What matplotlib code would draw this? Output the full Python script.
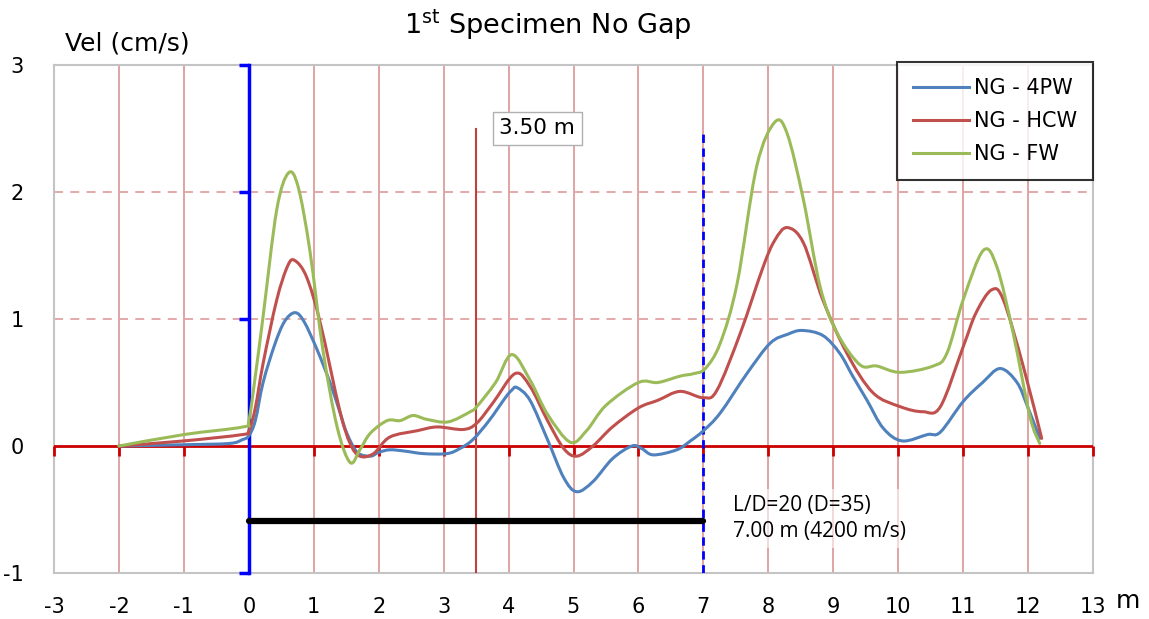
import matplotlib
matplotlib.use("Agg")
import matplotlib.pyplot as plt
from matplotlib.lines import Line2D
from matplotlib.path import Path
from matplotlib.patches import PathPatch

# ---------------- data ----------------
x_4pw = [-2, -1, -0.3, -0.1, 0, 0.1, 0.22, 0.4, 0.55, 0.71, 0.85, 1.05, 1.25, 1.4, 1.51, 1.67, 1.87,
         2.0, 2.17, 2.4, 2.69, 3.05, 3.25, 3.45, 3.7, 3.95, 4.05, 4.13, 4.33, 4.6, 4.85, 5.05, 5.3,
         5.6, 5.9, 6.05, 6.23, 6.59, 6.8, 7.0, 7.26, 7.67, 8.03, 8.3, 8.52, 8.84, 9.1, 9.3, 9.52,
         9.77, 10.06, 10.45, 10.65, 11.0, 11.3, 11.57, 11.83, 12.0, 12.18]
y_4pw = [0, 0.01, 0.02, 0.05, 0.08, 0.2, 0.5, 0.8, 0.98, 1.05, 0.98, 0.76, 0.5, 0.27, 0.10, -0.05, -0.08,
         -0.05, -0.03, -0.04, -0.06, -0.06, -0.02, 0.05, 0.2, 0.38, 0.44, 0.46, 0.36, 0.05, -0.25, -0.36, -0.28,
         -0.1, 0.0, -0.02, -0.07, -0.03, 0.04, 0.12, 0.26, 0.57, 0.81, 0.88, 0.91, 0.87, 0.73, 0.55, 0.36,
         0.14, 0.04, 0.09, 0.11, 0.35, 0.5, 0.61, 0.5, 0.3, 0.06]

x_hcw = [-2, -1, -0.1, 0, 0.1, 0.22, 0.43, 0.6, 0.71, 0.89, 1.1, 1.4, 1.56, 1.71, 1.92, 2.17, 2.59,
         2.9, 3.3, 3.51, 3.76, 4.1, 4.33, 4.6, 4.85, 5.05, 5.3, 5.6, 6.0, 6.3, 6.64, 7.0, 7.21, 7.57,
         7.92, 8.1, 8.29, 8.54, 8.84, 9.21, 9.61, 10.03, 10.38, 10.65, 11.0, 11.2, 11.44, 11.62, 11.93, 12.21]
y_hcw = [0, 0.04, 0.09, 0.12, 0.3, 0.65, 1.15, 1.42, 1.46, 1.33, 0.97, 0.28, 0.02, -0.08, -0.06, 0.07, 0.12,
         0.15, 0.13, 0.18, 0.34, 0.57, 0.47, 0.2, -0.02, -0.08, 0.0, 0.15, 0.3, 0.36, 0.43, 0.38, 0.44, 0.89,
         1.41, 1.62, 1.72, 1.6, 1.15, 0.73, 0.42, 0.31, 0.27, 0.31, 0.78, 1.05, 1.23, 1.15, 0.62, 0.06]

x_fw = [-2, -1, -0.09, 0, 0.1, 0.22, 0.43, 0.61, 0.76, 0.94, 1.14, 1.36, 1.56, 1.71, 1.87, 2.13, 2.33,
        2.53, 2.74, 3.07, 3.41, 3.51, 3.8, 4.05, 4.33, 4.6, 4.95, 5.2, 5.5, 6.0, 6.3, 6.64, 6.85, 7.03,
        7.26, 7.52, 7.82, 8.1, 8.29, 8.54, 8.8, 9.06, 9.41, 9.67, 10.03, 10.54, 10.75, 11.0, 11.31, 11.52,
        11.77, 12.03, 12.18]
y_fw = [0, 0.09, 0.15, 0.2, 0.55, 1.02, 1.86, 2.15, 2.04, 1.54, 0.76, 0.15, -0.13, -0.03, 0.10, 0.2, 0.2,
        0.24, 0.21, 0.19, 0.27, 0.31, 0.5, 0.72, 0.52, 0.25, 0.03, 0.12, 0.32, 0.5, 0.5, 0.55, 0.57, 0.61,
        0.81, 1.28, 2.2, 2.55, 2.46, 1.94, 1.25, 0.89, 0.64, 0.63, 0.58, 0.63, 0.73, 1.15, 1.54, 1.41,
        0.89, 0.23, 0.02]

series_labels = ["NG - 4PW", "NG - HCW", "NG - FW"]
x_ticks = list(range(-3, 14))
y_ticks = [-1, 0, 1, 2, 3]
marker_35 = 3.5
marker_7 = 7.0
black_bar_y = -0.59


def smooth_path(xs, ys):
    """Excel-like smoothed line: Bezier path through the data points."""
    n = len(xs)
    verts = [(xs[0], ys[0])]
    codes = [Path.MOVETO]
    for i in range(n - 1):
        x0, y0 = (xs[i - 1], ys[i - 1]) if i > 0 else (xs[i], ys[i])
        x1, y1 = xs[i], ys[i]
        x2, y2 = xs[i + 1], ys[i + 1]
        x3, y3 = (xs[i + 2], ys[i + 2]) if i + 2 < n else (x2, y2)
        c1 = (x1 + (x2 - x0) / 6.0, y1 + (y2 - y0) / 6.0)
        c2 = (x2 - (x3 - x1) / 6.0, y2 - (y3 - y1) / 6.0)
        verts += [c1, c2, (x2, y2)]
        codes += [Path.CURVE4] * 3
    return Path(verts, codes)


# ---------------- figure ----------------
W, H = 1149, 619
fig = plt.figure(figsize=(W / 100, H / 100), dpi=100)
ax = fig.add_axes([54 / W, 1 - 573 / H, (1093 - 54) / W, (573 - 65) / H])
ax.set_xlim(-3, 13)
ax.set_ylim(-1, 3)

grid_c = "#e2a3a3"
for xt in x_ticks[1:-1]:
    ax.axvline(xt, color=grid_c, lw=1.4, zorder=1)
for yt in [1, 2]:
    ax.axhline(yt, color=grid_c, lw=1.3, ls=(0, (5, 4)), zorder=1)

for s in ax.spines.values():
    s.set_color("#c4c4c4")
    s.set_linewidth(1.5)

ax.set_xticks(x_ticks)
ax.set_yticks(y_ticks)
ax.tick_params(axis="both", length=0, labelsize=15, pad=0)
ax.set_xticklabels([str(v) for v in x_ticks])
ax.set_yticklabels([str(v) for v in y_ticks])
ax.tick_params(axis="x", pad=17)
ax.tick_params(axis="y", pad=22)

# red zero axis with ticks
ax.axhline(0, color="#cc0000", lw=2, zorder=3)
ax.plot(x_ticks, [0] * len(x_ticks), ls="none", marker=3, markersize=7,
        markeredgewidth=2, color="#cc0000", zorder=3, clip_on=False)

# blue solid line at x=0 with left ticks
ax.plot([0, 0], [-1, 3], color="#0000ff", lw=2.5, zorder=4, clip_on=False)
ax.plot([0, 0, 0, 0], [-1, 1, 2, 3], ls="none", marker=0, markersize=7,
        markeredgewidth=2.5, color="#0000ff", zorder=4, clip_on=False)

# blue dashed at 7
ax.plot([marker_7, marker_7], [-1, 2.47], color="#0000ff", lw=2, ls=(0, (3, 2)), zorder=4)

# red vertical at 3.5
ax.plot([marker_35, marker_35], [-1, 2.5], color="#c0403f", lw=1.5, zorder=4)
ax.text(4.44, 2.5, "3.50 m", fontsize=15.5, ha="center", va="center", zorder=6,
        bbox=dict(boxstyle="square,pad=0.3", fc="white", ec="#b0b0b0", lw=1))

# black bar
ax.plot([0, marker_7], [black_bar_y, black_bar_y], color="black", lw=4.5,
        solid_capstyle="round", zorder=5)

ax.text(7.45, -0.57, "L/D=20 (D=35)\n7.00 m (4200 m/s)", fontsize=15, family="Open Sans",
        ha="left", va="center", linespacing=1.3, zorder=6,
        bbox=dict(boxstyle="square,pad=0.3", fc="white", ec="none", alpha=0.6))

# series
colors = ["#4f81bd", "#c0504d", "#9bbb59"]
handles = []
for xs, ys, c, lab in zip([x_4pw, x_hcw, x_fw], [y_4pw, y_hcw, y_fw], colors, series_labels):
    patch = PathPatch(smooth_path(xs, ys), fill=False, edgecolor=c, lw=2.2,
                      capstyle="round", joinstyle="round", zorder=7)
    ax.add_patch(patch)
    handles.append(Line2D([], [], color=c, lw=2.2, label=lab))

leg = ax.legend(handles=handles, loc="upper right", bbox_to_anchor=(1.0, 1.005),
                fontsize=15, frameon=True, fancybox=False, borderaxespad=0,
                handlelength=2.7, handletextpad=0.25, labelspacing=0.62,
                borderpad=0.75)
leg._legend_box.align = "left"
leg.get_frame().set_edgecolor("black")
leg.get_frame().set_linewidth(1.5)
leg.set_zorder(10)

fig.text(548 / W, 1 - 25 / H, "1$^{\\mathrm{st}}$ Specimen No Gap", fontsize=19.5,
         ha="center", va="center")
fig.text(65 / W, 1 - 43 / H, "Vel (cm/s)", fontsize=18, ha="left", va="center")
fig.text(1128 / W, 1 - 601 / H, "m", fontsize=18, ha="center", va="center")

fig.savefig("out.png", dpi=100)
